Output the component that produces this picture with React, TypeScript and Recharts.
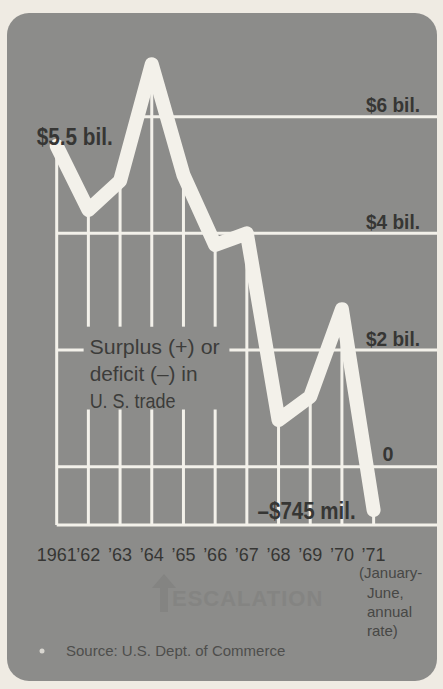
import React from 'react';
import {
  ComposedChart,
  Line,
  XAxis,
  YAxis,
  ReferenceLine,
  ReferenceArea,
  ReferenceDot,
} from 'recharts';

// U.S. trade surplus (+) or deficit (-), billions of dollars
const years = [1961, 1962, 1963, 1964, 1965, 1966, 1967, 1968, 1969, 1970, 1971];
const balance = [5.5, 4.4, 4.9, 6.9, 5.0, 3.8, 4.0, 0.8, 1.2, 2.7, -0.745];
const tickLabels = ['1961', '’62', '’63', '’64', '’65', '’66', '’67', '’68', '’69', '’70', '’71'];

// horizontal guide levels and their captions
const levels = [-1, 0, 2, 4, 6];
const levelLabels: Record<number, string> = { 0: '0', 2: '$2 bil.', 4: '$4 bil.', 6: '$6 bil.' };

const W = 443;
const H = 689;
const X_MIN = 1960;
const X_MAX = 1973;
const Y_MIN = -1;
const Y_MAX = 8;

const PANEL = '#8c8c8a';
const INK = '#363634';
const WHITE = '#f3f1ea';
const NARROW = '"Liberation Sans Narrow", "Liberation Sans", Arial, sans-serif';
const SANS = '"Liberation Sans", Arial, sans-serif';

// the caption box that interrupts the grid
const box = { x1: 1961.85, x2: 1966.45, y1: 0.98, y2: 2.4 };

const data = years.map((year, i) => ({ year, value: balance[i] }));

// first x where the curve reaches a level (grid line starts there)
function firstReach(level: number) {
  if (balance[0] >= level) return years[0];
  for (let i = 1; i < balance.length; i++) {
    if (balance[i] >= level) {
      const t = (level - balance[i - 1]) / (balance[i] - balance[i - 1]);
      return years[i - 1] + t * (years[i] - years[i - 1]);
    }
  }
  return X_MAX;
}

// squeezed bold lettering like the newspaper's condensed face
const Condensed = ({ x, y, text, size, width, anchor }: any) => (
  <text x={x} y={y} textAnchor={anchor} dominantBaseline="central"
    fontFamily={NARROW} fontWeight={700} fontSize={size} fill={INK}
    textLength={width} lengthAdjust="spacingAndGlyphs">
    {text}
  </text>
);

const YearTick = ({ x, y, payload }: any) => {
  const idx = years.indexOf(payload.value);
  return (
    <text x={x} y={y + 22} textAnchor="middle" dominantBaseline="central"
      fontFamily={SANS} fontSize={18} fill={INK}>
      {tickLabels[idx]}
    </text>
  );
};

const LevelLabel = ({ viewBox, text }: any) => {
  if (!viewBox) return null;
  const right = viewBox.x + viewBox.width;
  if (text === '0') {
    return <Condensed x={right - 49} y={viewBox.y - 13} text={text} size={20} width={11} anchor="middle" />;
  }
  return <Condensed x={right - 17} y={viewBox.y - 12} text={text} size={21} width={54} anchor="end" />;
};

const PointLabel = ({ viewBox, text, dx, dy, width }: any) => {
  if (!viewBox) return null;
  return <Condensed x={viewBox.x + dx} y={viewBox.y + dy} text={text} size={24} width={width} anchor="end" />;
};

const BoxCaption = ({ viewBox }: any) => {
  if (!viewBox) return null;
  const lines = ['Surplus (+) or', 'deficit (–) in', 'U. S. trade'];
  const widths = [130, 108, 86];
  return (
    <g>
      {lines.map((t, i) => (
        <text key={t} x={viewBox.x + 6} y={viewBox.y + 20 + i * 27} dominantBaseline="central"
          fontFamily={SANS} fontSize={21} fill="#3c3c3a"
          textLength={widths[i]} lengthAdjust="spacingAndGlyphs">
          {t}
        </text>
      ))}
    </g>
  );
};

export default function App() {
  const gridLine = { stroke: WHITE, strokeWidth: 3, ifOverflow: 'visible' as const };

  return (
    <div style={{ position: 'absolute', left: 0, top: 0, width: W, height: H, background: '#efebe3', overflow: 'hidden' }}>
      <div style={{
        position: 'absolute', left: 7, top: 13, width: 430, height: 668,
        background: PANEL, borderRadius: 22,
      }} />
      <div style={{ position: 'absolute', left: 0, top: 0 }}>
        <ComposedChart width={W} height={H} data={data}
          margin={{ top: 0, right: 6, bottom: 124, left: 25 }}>
          <XAxis type="number" dataKey="year" domain={[X_MIN, X_MAX]} ticks={years}
            axisLine={false} tickLine={false} height={40} tick={<YearTick />} interval={0} />
          <YAxis hide type="number" domain={[Y_MIN, Y_MAX]} allowDataOverflow />

          {/* horizontal guides, running from where the curve reaches them out to the right edge */}
          {levels.map((lv) => {
            const start = firstReach(lv);
            const label = levelLabels[lv] ? <LevelLabel text={levelLabels[lv]} /> : undefined;
            if (lv === 2) {
              return [
                <ReferenceLine key="l2a" {...gridLine} segment={[{ x: start, y: lv }, { x: box.x1, y: lv }]} />,
                <ReferenceLine key="l2b" {...gridLine} segment={[{ x: box.x2, y: lv }, { x: X_MAX, y: lv }]} label={label} />,
              ];
            }
            return (
              <ReferenceLine key={`l${lv}`} {...gridLine}
                segment={[{ x: start, y: lv }, { x: X_MAX, y: lv }]} label={label} />
            );
          })}

          {/* vertical drop lines from the curve to the bottom */}
          {data.map((d) => {
            const inBox = d.year > box.x1 && d.year < box.x2;
            if (!inBox) {
              return <ReferenceLine key={`v${d.year}`} {...gridLine}
                segment={[{ x: d.year, y: Y_MIN }, { x: d.year, y: d.value }]} />;
            }
            return [
              <ReferenceLine key={`v${d.year}a`} {...gridLine}
                segment={[{ x: d.year, y: Y_MIN }, { x: d.year, y: box.y1 }]} />,
              <ReferenceLine key={`v${d.year}b`} {...gridLine}
                segment={[{ x: d.year, y: box.y2 }, { x: d.year, y: d.value }]} />,
            ];
          })}

          <ReferenceArea x1={box.x1} x2={box.x2} y1={box.y1} y2={box.y2}
            fill="none" fillOpacity={0} stroke="none" label={<BoxCaption />} />

          <Line type="linear" dataKey="value" stroke={WHITE} strokeWidth={14}
            strokeLinejoin="round" strokeLinecap="round" dot={false} activeDot={false}
            isAnimationActive={false} />

          <ReferenceDot x={years[0]} y={balance[0]} r={0} fill="none" stroke="none"
            label={<PointLabel text="$5.5 bil." dx={56} dy={-9} width={76} />} />
          <ReferenceDot x={years[10]} y={balance[10]} r={0} fill="none" stroke="none"
            label={<PointLabel text="–$745 mil." dx={-18} dy={0} width={98} />} />
        </ComposedChart>
      </div>

      {/* notes under the chart */}
      <svg width={W} height={H} style={{ position: 'absolute', left: 0, top: 0, pointerEvents: 'none' }}>
        <g fill="#838381" opacity={0.8}>
          <path d="M160 612 L160 588 L152 588 L164 574 L176 588 L168 588 L168 612 Z" />
          <text x={172} y={606} fontFamily={SANS} fontWeight={700} fontSize={22} letterSpacing={1}>ESCALATION</text>
        </g>
        <g fontFamily={SANS} fontSize={15} fill="#474745">
          <text x={359} y={578}>(January-</text>
          <text x={367} y={598}>June,</text>
          <text x={367} y={617}>annual</text>
          <text x={367} y={636}>rate)</text>
        </g>
        <circle cx={42} cy={651} r={2.5} fill="#d8d6d0" />
        <text x={66} y={656} fontFamily={SANS} fontSize={15} fill="#4e4e4c">Source: U.S. Dept. of Commerce</text>
      </svg>
    </div>
  );
}
